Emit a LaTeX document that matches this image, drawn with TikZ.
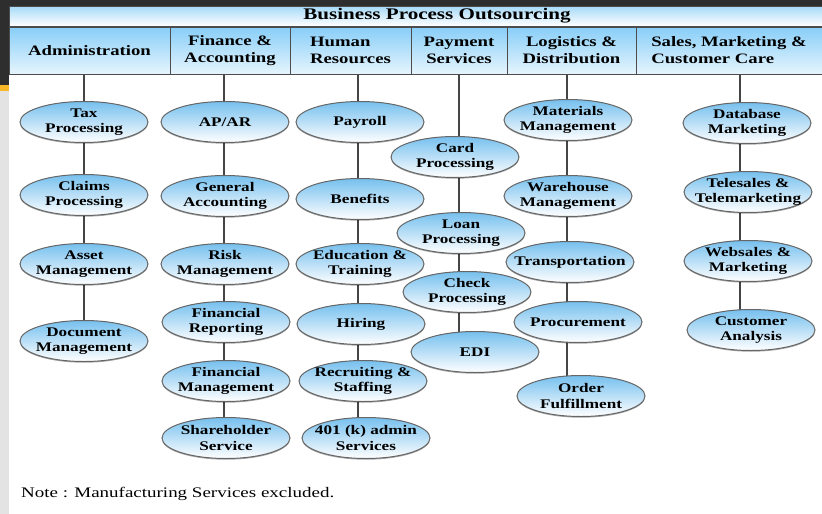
\documentclass[tikz,border=0pt]{standalone}
\usepackage{fontspec}
\setmainfont{Liberation Serif}[FakeStretch=1.3]
\usetikzlibrary{shapes.geometric,backgrounds,shadows}
\definecolor{FrameGrey}{HTML}{2E2E2E}
\definecolor{EdgeGrey}{HTML}{E3E3E3}
\definecolor{Amber}{HTML}{F6B826}
\definecolor{SkyTop}{HTML}{A6DAF8}
\definecolor{HeadTop}{HTML}{88CEF8}
\definecolor{HeadBottom}{HTML}{E6F5FD}
\definecolor{BubbleTop}{HTML}{76C0EE}
\definecolor{LineGrey}{HTML}{454545}

\begin{document}
\begin{tikzpicture}[x=1pt,y=-1pt,
    titlebar/.style={draw=black!70,line width=0.8pt,top color=SkyTop,bottom color=white,minimum width=813pt,minimum height=20pt,inner sep=0pt},
    titletext/.style={font=\fontsize{16.2}{18}\bfseries,inner sep=0pt},
    bar/.style={draw=black!70,line width=0.8pt,top color=HeadTop,bottom color=HeadBottom,minimum height=47pt,inner sep=2pt,align=center,font=\fontsize{14.4}{17}\bfseries},
    bubble/.style={ellipse,draw=black!60,line width=1pt,top color=BubbleTop,bottom color=white,minimum width=128pt,minimum height=41pt,inner xsep=-30pt,inner ysep=-15pt,align=center,font=\fontsize{13.2}{15.5}\bfseries,drop shadow={shadow xshift=0pt,shadow yshift=-1.2pt,fill=black,opacity=0.35}},
    link/.style={draw=LineGrey,line width=2.4pt},
    note/.style={font=\fontsize{14.6}{17}\selectfont,inner sep=0pt}
  ]
    \useasboundingbox (0,0) rectangle (822,514);
    \fill[FrameGrey] (0,0) rectangle (822,6);
    \fill[FrameGrey] (0,0) rectangle (9,85);
    \fill[Amber] (0,85) rectangle (9,91);
    \fill[EdgeGrey] (0,91) rectangle (9,514);

    \node[titlebar] (bpo) at (415.5,16) {};
    \node[titletext] (bpolabel) at (437,16) {Business Process Outsourcing};

    \node[bar,minimum width=161pt] (adm) at (89.5,50.5) {Administration};
    \node[bar,minimum width=120pt] (fin) at (230,50.5) {Finance \&\\Accounting};
    \node[bar,minimum width=121pt,align=left] (hr) at (350.5,50.5) {Human\\Resources};
    \node[bar,minimum width=96pt] (pay) at (459,50.5) {Payment\\Services};
    \node[bar,minimum width=129pt] (log) at (571.5,50.5) {Logistics \&\\Distribution};
    \node[bar,minimum width=186pt,align=left] (sal) at (729,50.5) {Sales, Marketing \&\\Customer Care};

    \coordinate (admTop) at (84,74);
    \coordinate (finTop) at (224,74);
    \coordinate (hrTop) at (358,74);
    \coordinate (payTop) at (459,74);
    \coordinate (logTop) at (567,74);
    \coordinate (salTop) at (740,74);

    \node[bubble] (tax) at (84,122) {Tax\\Processing};
    \node[bubble] (claims) at (84,195) {Claims\\Processing};
    \node[bubble] (asset) at (84,264) {Asset\\Management};
    \node[bubble] (docmgmt) at (84,341) {Document\\Management};

    \node[bubble] (apar) at (225,122) {AP/AR};
    \node[bubble] (genacc) at (225,196) {General\\Accounting};
    \node[bubble] (risk) at (225,264) {Risk\\Management};
    \node[bubble] (finrep) at (226,322) {Financial\\Reporting};
    \node[bubble] (finmgmt) at (226,381) {Financial\\Management};
    \node[bubble] (sharehold) at (226,438) {Shareholder\\Service};

    \node[bubble] (payroll) at (360,122) {Payroll};
    \node[bubble] (benefits) at (360,199) {Benefits};
    \node[bubble] (edu) at (360,264) {Education \&\\Training};
    \node[bubble] (hiring) at (361,324) {Hiring};
    \node[bubble] (recruit) at (363,381) {Recruiting \&\\Staffing};
    \node[bubble] (fourk) at (366,438) {401 (k) admin\\Services};

    \node[bubble] (card) at (455,157) {Card\\Processing};
    \node[bubble] (loan) at (461,233) {Loan\\Processing};
    \node[bubble] (check) at (467,292) {Check\\Processing};
    \node[bubble] (edi) at (475,352) {EDI};

    \node[bubble] (materials) at (568,120) {Materials\\Management};
    \node[bubble] (warehouse) at (568,196) {Warehouse\\Management};
    \node[bubble] (transport) at (570,262) {Transportation};
    \node[bubble] (procure) at (578,322) {Procurement};
    \node[bubble] (order) at (581,396) {Order\\Fulfillment};

    \node[bubble] (database) at (747,123) {Database\\Marketing};
    \node[bubble] (telesales) at (748,192) {Telesales \&\\Telemarketing};
    \node[bubble] (websales) at (748,261) {Websales \&\\Marketing};
    \node[bubble] (custan) at (751,330) {Customer\\Analysis};

    \begin{scope}[on background layer]
      \draw[link] (admTop) -- (admTop |- docmgmt);
      \draw[link] (finTop) -- (finTop |- sharehold);
      \draw[link] (hrTop) -- (hrTop |- fourk);
      \draw[link] (payTop) -- (payTop |- edi);
      \draw[link] (logTop) -- (logTop |- order);
      \draw[link] (salTop) -- (salTop |- custan);
    \end{scope}

    \node[note,anchor=west] (note) at (21,494) {Note : Manufacturing Services excluded.};
  \end{tikzpicture}
\end{document}
